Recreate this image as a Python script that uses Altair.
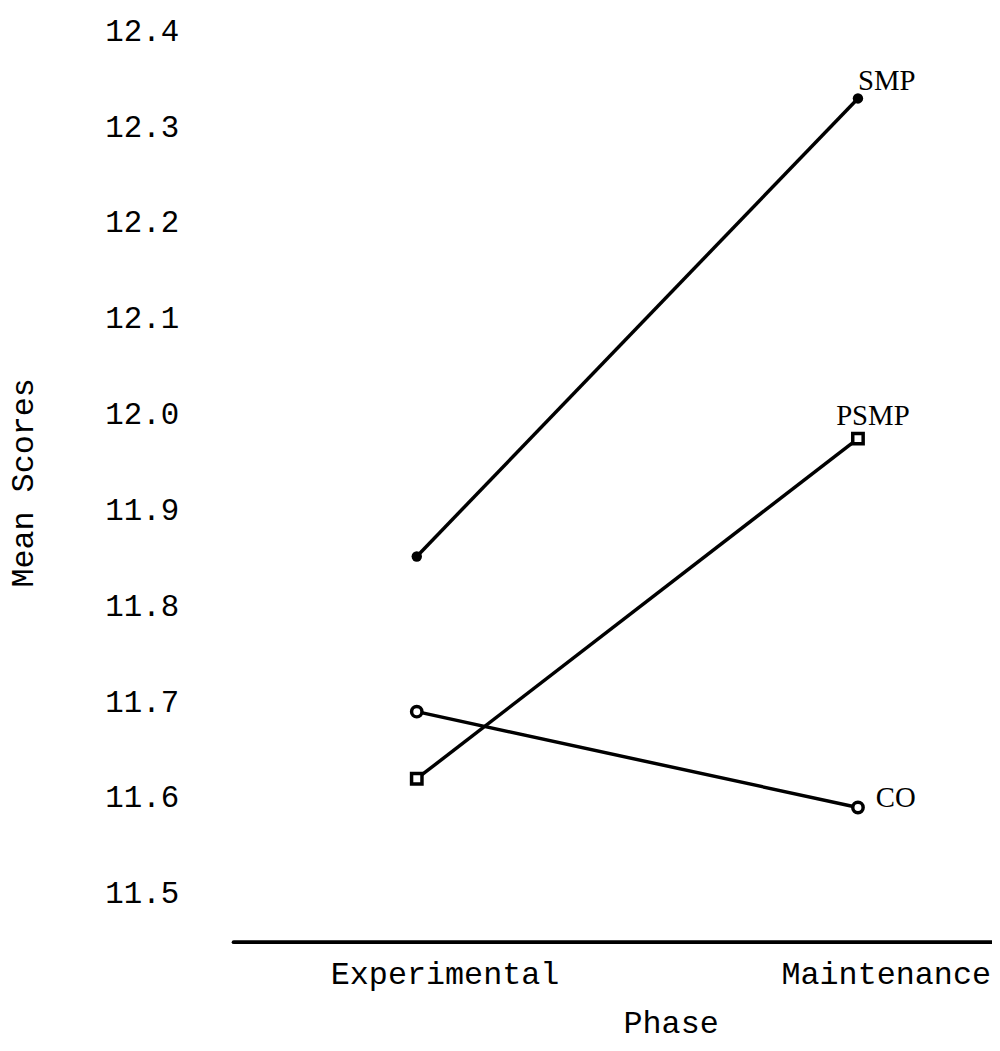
import altair as alt
import pandas as pd

# ---- data ----
phases = ["Experimental", "Maintenance"]
groups = ["SMP", "PSMP", "CO"]
smp_scores = [11.852, 12.330]
psmp_scores = [11.620, 11.975]
co_scores = [11.690, 11.590]
y_ticks = [11.5, 11.6, 11.7, 11.8, 11.9, 12.0, 12.1, 12.2, 12.3, 12.4]

rows = []
for g, vals in zip(groups, [smp_scores, psmp_scores, co_scores]):
    for p, v in zip(phases, vals):
        rows.append({"phase": p, "group": g, "score": v})
df = pd.DataFrame(rows)

MONO = "Liberation Mono"
SERIF = "Liberation Serif"

x_enc = alt.X(
    "phase:N",
    sort=phases,
    scale=alt.Scale(type="point", padding=0.36, align=0.578),
    axis=alt.Axis(
        title="Phase",
        titleFont=MONO, titleFontSize=32, titleFontWeight="normal", titleColor="black",
        titleX=441, titleY=92, titleBaseline="alphabetic", titleAlign="center",
        labelFont=MONO, labelFontSize=32, labelColor="black", labelAngle=0,
        labelBaseline="alphabetic", labelPadding=42, labelOffset=28, labelLimit=0,
        labelOverlap=False,
        ticks=False, tickSize=0, grid=False,
        domain=True, domainColor="black", domainWidth=4, domainCap="round",
    ),
)
y_enc = alt.Y(
    "score:Q",
    scale=alt.Scale(domain=[11.45, 12.42], nice=False, zero=False),
    axis=alt.Axis(
        values=y_ticks, format=".1f",
        title="Mean Scores",
        titleFont=MONO, titleFontSize=32, titleFontWeight="normal", titleColor="black",
        titleAngle=270, titleX=-202, titleY=474, titleBaseline="alphabetic", titleAlign="center",
        labelFont=MONO, labelFontSize=31, labelColor="black", labelPadding=55, labelLimit=0,
        ticks=False, tickSize=0, grid=False, domain=False,
    ),
)

base = alt.Chart(df).encode(x=x_enc, y=y_enc)

lines = base.mark_line(color="black", strokeWidth=3.5).encode(detail="group:N")

pt_smp = base.transform_filter(alt.datum.group == "SMP").mark_point(
    shape="circle", filled=True, color="black", size=110, opacity=1
)
pt_psmp = base.transform_filter(alt.datum.group == "PSMP").mark_point(
    shape="square", filled=True, fill="white", stroke="black", strokeWidth=3.5, size=110, opacity=1
)
pt_co = base.transform_filter(alt.datum.group == "CO").mark_point(
    shape="circle", filled=True, fill="white", stroke="black", strokeWidth=3.5, size=110, opacity=1
)

last = base.transform_filter(alt.datum.phase == "Maintenance")
lab_smp = last.transform_filter(alt.datum.group == "SMP").mark_text(
    font=SERIF, fontSize=29, align="left", baseline="alphabetic", dx=0, dy=-9, color="black"
).encode(text="group:N")
lab_psmp = last.transform_filter(alt.datum.group == "PSMP").mark_text(
    font=SERIF, fontSize=29, align="left", baseline="alphabetic", dx=-22, dy=-14, color="black"
).encode(text="group:N")
lab_co = last.transform_filter(alt.datum.group == "CO").mark_text(
    font=SERIF, fontSize=29, align="left", baseline="alphabetic", dx=18, dy=0, color="black"
).encode(text="group:N")

chart = (
    alt.layer(lines, pt_smp, pt_psmp, pt_co, lab_smp, lab_psmp, lab_co)
    .properties(
        width=765,
        height=937,
        autosize=alt.AutoSizeParams(type="none"),
        padding={"left": 227, "top": 0, "right": 0, "bottom": 104},
        background="white",
    )
    .configure_view(stroke=None)
)

chart.save("out.html", embed_options={"renderer": "svg", "actions": False})
